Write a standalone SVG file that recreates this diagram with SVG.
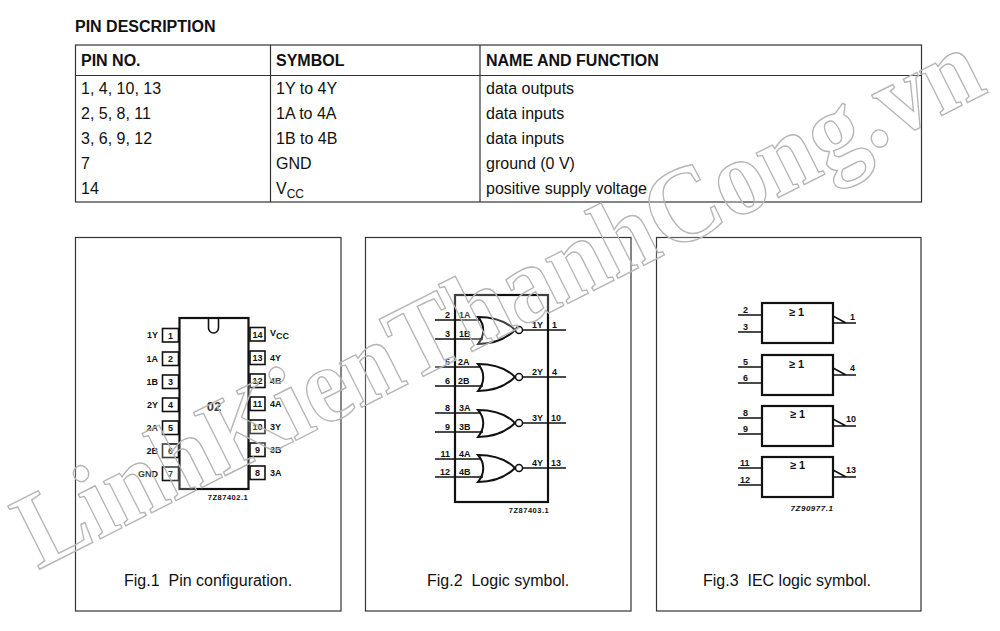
<svg xmlns="http://www.w3.org/2000/svg" width="1000" height="631" viewBox="0 0 1000 631">
<style>
text{font-family:"Liberation Sans",Arial,sans-serif;fill:#111}
.f{fill:none;stroke:#333;stroke-width:1.2}
.h{font-size:16px;font-weight:700}
.t{font-size:16px}
.c{font-size:16px}
.p{fill:#fff;stroke:#111;stroke-width:1.6}
.b{fill:#fff;stroke:#111;stroke-width:2.2}
.w{fill:none;stroke:#111;stroke-width:1.5}
.s{font-size:9px;font-weight:700}
.g{font-size:11px;font-weight:700}
.m{text-anchor:middle}
.e{text-anchor:end}
.wm{font-family:"Liberation Serif",serif;font-weight:700;font-size:108px;fill:#fff;fill-opacity:.2;stroke:#b5b5b5;stroke-width:1.4}
</style>
<defs>
<g id="nor"><path class="w" d="M478 -13C497 -13 508 -7 515 0C508 7 497 14 478 14C485 5 485 -5 478 -13Z" style="stroke-width:2"/><circle class="w" style="fill:#fff" cx="519" cy="0" r="3.5"/><path class="w" d="M523 0H566"/></g>
<g id="iec"><rect class="b" x="762" y="0" width="71" height="40"/><path class="w" d="M833 20H856M833 13L846 20"/></g>
</defs>
<rect width="1000" height="631" fill="#fff"/>
<g id="table">
<text class="h" x="75" y="32">PIN DESCRIPTION</text>
<rect class="f" x="75.500" y="45" width="846" height="157"/>
<path class="f" d="M75 75.500H921M270.500 45V202M480 45V202"/>
<text class="h" x="81" y="66">PIN NO.</text><text class="h" x="276" y="66">SYMBOL</text><text class="h" x="486" y="66">NAME AND FUNCTION</text>
<text class="t" x="81" y="94">1, 4, 10, 13</text><text class="t" x="276" y="94">1Y to 4Y</text><text class="t" x="486" y="94">data outputs</text>
<text class="t" x="81" y="119">2, 5, 8, 11</text><text class="t" x="276" y="119">1A to 4A</text><text class="t" x="486" y="119">data inputs</text>
<text class="t" x="81" y="144">3, 6, 9, 12</text><text class="t" x="276" y="144">1B to 4B</text><text class="t" x="486" y="144">data inputs</text>
<text class="t" x="81" y="169">7</text><text class="t" x="276" y="169">GND</text><text class="t" x="486" y="169">ground (0 V)</text>
<text class="t" x="81" y="194">14</text><text class="t" x="276" y="194">V<tspan font-size="12" dy="4">CC</tspan></text><text class="t" x="486" y="194">positive supply voltage</text>
</g>
<g id="fig1">
<rect class="f" x="75.500" y="237.500" width="265.500" height="373.500"/>
<rect class="b" x="179.500" y="318" width="69" height="171"/>
<path d="M208.500 319V328A5 5 0 0 0 218.500 328V319" fill="none" stroke="#111" stroke-width="1.6"/>
<g class="p"><rect x="162.500" y="328.500" width="16" height="13.500"/><rect x="162.500" y="352" width="16" height="13.500"/><rect x="162.500" y="375" width="16" height="13.500"/><rect x="162.500" y="398" width="16" height="13.500"/><rect x="162.500" y="421" width="16" height="13.500"/><rect x="162.500" y="444" width="16" height="13.500"/><rect x="162.500" y="467" width="16" height="13.500"/>
<rect x="250" y="327.500" width="15" height="13.500"/><rect x="250" y="351" width="15" height="13.500"/><rect x="250" y="374" width="15" height="13.500"/><rect x="250" y="397" width="15" height="13.500"/><rect x="250" y="420" width="15" height="13.500"/><rect x="250" y="443" width="15" height="13.500"/><rect x="250" y="466" width="15" height="13.500"/></g>
<g class="s m"><text x="170.500" y="339">1</text><text x="170.500" y="362">2</text><text x="170.500" y="385">3</text><text x="170.500" y="408">4</text><text x="170.500" y="431">5</text><text x="170.500" y="454">6</text><text x="170.500" y="477">7</text>
<text x="257.500" y="338">14</text><text x="257.500" y="361">13</text><text x="257.500" y="384">12</text><text x="257.500" y="407">11</text><text x="257.500" y="430">10</text><text x="257.500" y="453">9</text><text x="257.500" y="476">8</text></g>
<g class="s e"><text x="158" y="338">1Y</text><text x="158" y="362">1A</text><text x="158" y="385">1B</text><text x="158" y="408">2Y</text><text x="158" y="431">2A</text><text x="158" y="454">2B</text><text x="158" y="477">GND</text></g>
<g class="s"><text x="270" y="336">V<tspan dy="3">CC</tspan></text><text x="270" y="361">4Y</text><text x="270" y="384">4B</text><text x="270" y="407">4A</text><text x="270" y="430">3Y</text><text x="270" y="453">3B</text><text x="270" y="476">3A</text></g>
<text class="m" x="214" y="411" font-size="13" font-weight="700">02</text>
<text class="s m" x="228" y="500" style="font-size:7.500px;letter-spacing:.5px">7Z87402.1</text>
<text class="c" x="124" y="586">Fig.1&#160; Pin configuration.</text>
</g>
<g id="fig2">
<rect class="f" x="365.500" y="237.500" width="265.500" height="373.500"/>
<rect x="455" y="295" width="93" height="207" fill="#fff" stroke="#111" stroke-width="2.200"/>
<path class="w" d="M435 320H480M435 339H483M435 367H480M435 386H483M435 413H480M435 432H483M435 459H480M435 477H483"/>
<use href="#nor" y="330"/><use href="#nor" y="377"/><use href="#nor" y="423"/><use href="#nor" y="468"/>
<g class="s e"><text x="450" y="318">2</text><text x="450" y="337">3</text><text x="450" y="365">5</text><text x="450" y="384">6</text><text x="450" y="411">8</text><text x="450" y="430">9</text><text x="450" y="457">11</text><text x="450" y="475">12</text></g>
<g class="s"><text x="459" y="318">1A</text><text x="459" y="337">1B</text><text x="458" y="365">2A</text><text x="458" y="384">2B</text><text x="459" y="411">3A</text><text x="459" y="430">3B</text><text x="459" y="457">4A</text><text x="459" y="475">4B</text>
<text x="532" y="328">1Y</text><text x="532" y="375">2Y</text><text x="532" y="421">3Y</text><text x="532" y="466">4Y</text>
<text x="552" y="328">1</text><text x="552" y="375">4</text><text x="551" y="421">10</text><text x="551" y="466">13</text></g>
<text class="s m" x="529" y="513" style="font-size:7.500px;letter-spacing:.5px">7Z87403.1</text>
<text class="c" x="427" y="586">Fig.2&#160; Logic symbol.</text>
</g>
<g id="fig3">
<rect class="f" x="656.500" y="237.500" width="264.500" height="373.500"/>
<use href="#iec" y="303"/><use href="#iec" y="355"/><use href="#iec" y="406"/><use href="#iec" y="457"/>
<path class="w" d="M738 315H762M738 332H762M738 367H762M738 383H762M738 418H762M738 434H762M738 468H762M738 485H762"/>
<g class="s"><text x="743" y="313">2</text><text x="743" y="330">3</text><text x="743" y="365">5</text><text x="743" y="381">6</text><text x="743" y="416">8</text><text x="743" y="432">9</text><text x="740" y="466">11</text><text x="740" y="483">12</text>
<text x="850" y="320">1</text><text x="850" y="371">4</text><text x="846" y="422">10</text><text x="846" y="473">13</text></g>
<g class="g"><text x="789" y="316">≥ 1</text><text x="789" y="368">≥ 1</text><text x="790" y="418">≥ 1</text><text x="790" y="469">≥ 1</text></g>
<text class="s m" x="812" y="511" style="font-size:8px;font-style:italic;letter-spacing:.5px">7Z90977.1</text>
<text class="c" x="703" y="586">Fig.3&#160; IEC logic symbol.</text>
</g>
<text id="watermark" class="wm" x="0" y="0" transform="translate(38 570) rotate(-26.700)" textLength="1065" lengthAdjust="spacingAndGlyphs">LinhKienThanhCong.vn</text>
</svg>
